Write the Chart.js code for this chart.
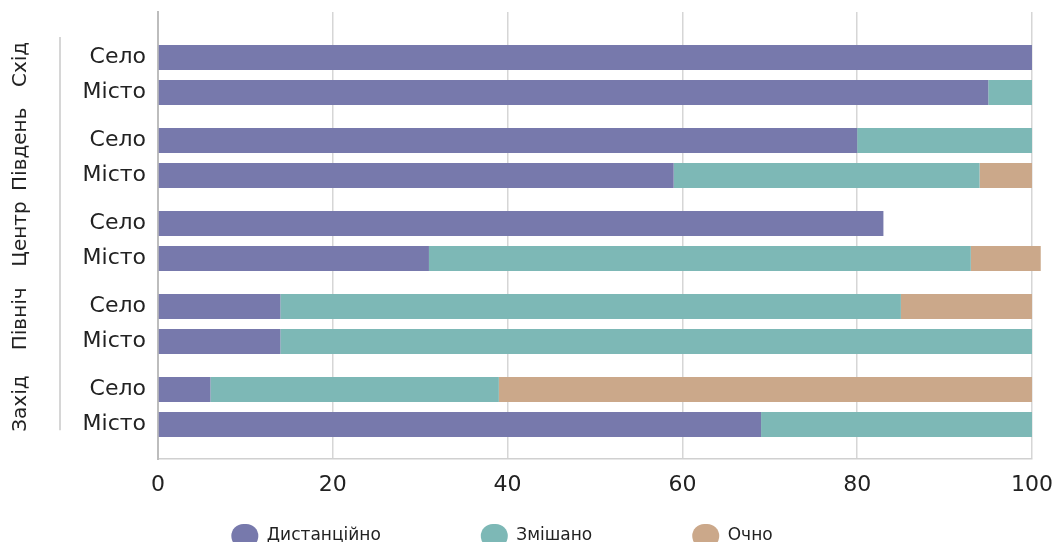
<!DOCTYPE html>
<html lang="uk">
<head>
<meta charset="UTF-8" />
<title>Форма навчання за регіонами</title>
<script src="https://cdn.jsdelivr.net/npm/chart.js@4.4.1/dist/chart.umd.min.js"></script>
<style>
  html, body { margin: 0; padding: 0; background: #fff; overflow: hidden; }
  #wrap { width: 1053px; height: 558px; }
</style>
</head>
<body>
<div id="wrap"><canvas id="chart"></canvas></div>
<script>
const regions = ['Схід', 'Південь', 'Центр', 'Північ', 'Захід'];
const settlements = ['Село', 'Місто'];
const modes = ['Дистанційно', 'Змішано', 'Очно'];
const modeColors = ['#7779ac', '#7db8b6', '#cba88a'];

// % of schools per region (same order as regions)
const seloRemote   = [100, 80, 83, 14, 6];
const seloMixed    = [0, 20, 0, 71, 33];
const seloOffline  = [0, 0, 0, 15, 61];
const mistoRemote  = [95, 59, 31, 14, 69];
const mistoMixed   = [5, 35, 62, 86, 31];
const mistoOffline = [0, 6, 8, 0, 0];

const xMax = 100;
const xStep = 20;

const catPct = 0.844;
const barPct = 0.714;
const yMin = -0.76, yMax = 4.63;
const textColor = '#222';

Chart.defaults.font.family = '"DejaVu Sans", sans-serif';
Chart.defaults.color = textColor;

function makeSet(label, color, values, stack) {
  return {
    label: label,
    stack: stack,
    backgroundColor: color,
    borderWidth: 0,
    clip: false,
    categoryPercentage: catPct,
    barPercentage: barPct,
    data: values.map((v, i) => ({ x: v, y: i }))
  };
}

const datasets = [
  makeSet(modes[0], modeColors[0], seloRemote, settlements[0]),
  makeSet(modes[1], modeColors[1], seloMixed, settlements[0]),
  makeSet(modes[2], modeColors[2], seloOffline, settlements[0]),
  makeSet(modes[0], modeColors[0], mistoRemote, settlements[1]),
  makeSet(modes[1], modeColors[1], mistoMixed, settlements[1]),
  makeSet(modes[2], modeColors[2], mistoOffline, settlements[1])
];

// rotated region names + bracket line on the left
const regionLabels = {
  id: 'regionLabels',
  afterDraw(chart) {
    const ctx = chart.ctx;
    const y = chart.scales.y;
    ctx.save();
    ctx.strokeStyle = '#c8c8c8';
    ctx.lineWidth = 1.5;
    ctx.beginPath();
    ctx.moveTo(60, y.getPixelForValue(-0.46));
    ctx.lineTo(60, y.getPixelForValue(regions.length - 0.72));
    ctx.stroke();
    ctx.font = '20px "DejaVu Sans"';
    ctx.fillStyle = textColor;
    ctx.textAlign = 'center';
    ctx.textBaseline = 'middle';
    regions.forEach((r, g) => {
      ctx.save();
      ctx.translate(21, y.getPixelForValue(g * 1.022 - 0.128));
      ctx.rotate(-Math.PI / 2);
      ctx.fillText(r, 0, 0);
      ctx.restore();
    });
    ctx.restore();
  }
};

new Chart(document.getElementById('chart'), {
  type: 'bar',
  data: { datasets: datasets },
  plugins: [regionLabels],
  options: {
    indexAxis: 'y',
    responsive: true,
    maintainAspectRatio: false,
    animation: false,
    layout: { padding: { top: 12, right: 21, left: -28, bottom: 0 } },
    scales: {
      x: {
        type: 'linear',
        stacked: true,
        min: 0,
        max: xMax,
        ticks: { stepSize: xStep, padding: 0, font: { size: 22, lineHeight: 2.4 }, color: textColor },
        grid: { color: '#d6d6d6', lineWidth: 1.5, drawTicks: false },
        border: { display: true, color: '#d0d0d0', width: 1.5 }
      },
      // region axis (bars sit on it); only its border line is shown
      y: {
        type: 'linear',
        reverse: true,
        offset: false,
        min: yMin,
        max: yMax,
        weight: 0,
        afterBuildTicks: (s) => { s.ticks = regions.map((r, g) => ({ value: g })); },
        ticks: { display: false },
        grid: { display: false, drawTicks: false },
        border: { display: true, color: '#bdbdbd', width: 2 },
        afterFit: (s) => { s.width = 12; }
      },
      // Село / Місто labels at each stack centre
      yLab: {
        type: 'linear',
        position: 'left',
        reverse: true,
        offset: false,
        min: yMin,
        max: yMax,
        weight: 10,
        afterBuildTicks: (s) => {
          const d = catPct / 4;
          s.ticks = regions.flatMap((r, g) => [{ value: g - d }, { value: g + d }]);
        },
        ticks: {
          autoSkip: false,
          padding: 0,
          font: { size: 22, lineHeight: 1 },
          color: textColor,
          callback: (v, i) => settlements[i % 2]
        },
        grid: { display: false, drawTicks: false },
        border: { display: false },
        afterFit: (s) => { s.width = 174; }
      }
    },
    plugins: {
      tooltip: { enabled: false },
      legend: {
        position: 'bottom',
        title: { display: true, text: '', font: { size: 10 }, padding: { top: -50, bottom: -50 } },
        labels: {
          boxWidth: 27,
          boxHeight: 24,
          useBorderRadius: true,
          borderRadius: 12,
          padding: 100,
          font: { size: 17 },
          color: textColor,
          filter: (item, data) => data.datasets[item.datasetIndex].stack === settlements[0]
        }
      }
    }
  }
});
</script>
</body>
</html>
